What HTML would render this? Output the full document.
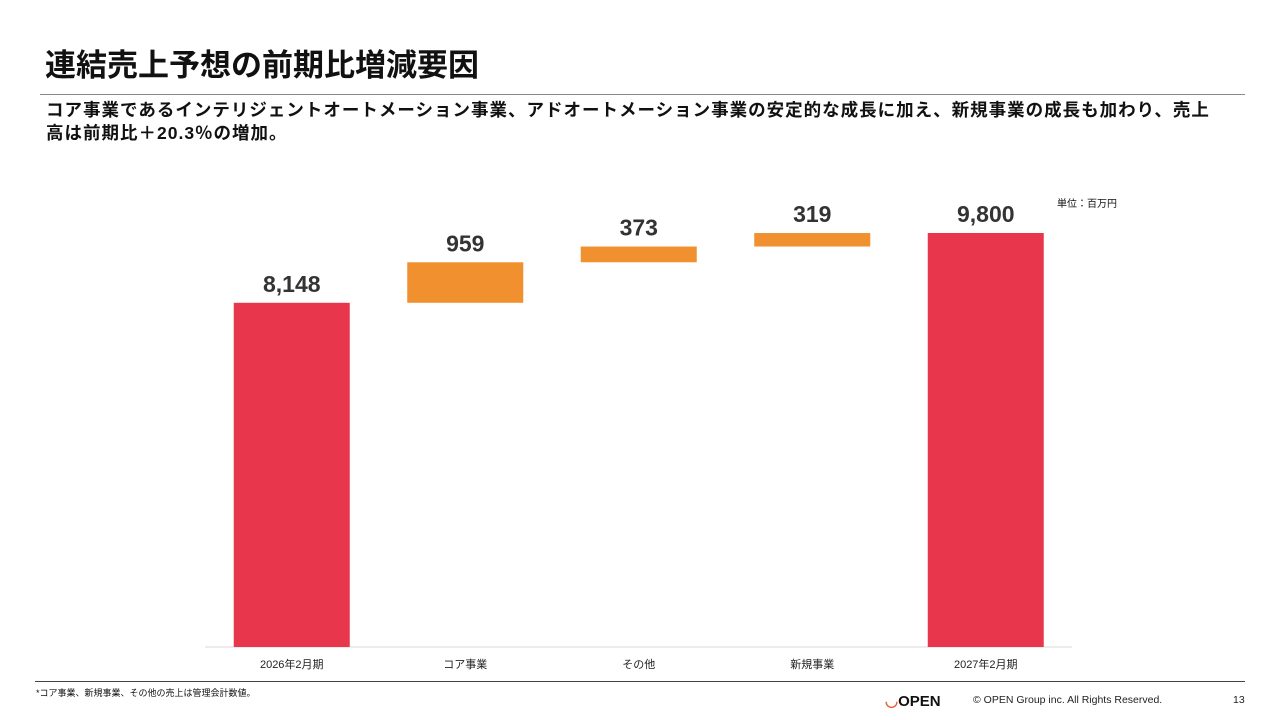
<!DOCTYPE html>
<html><head><meta charset="utf-8"><style>
body{margin:0;width:1280px;height:720px;background:#fff;position:relative;overflow:hidden;font-family:"Liberation Sans","Noto Sans CJK JP",sans-serif;color:#111}
.abs{position:absolute}
</style></head><body>
<div class="abs" style="left:45px;top:46px;font-size:31px;font-weight:bold;line-height:40px;white-space:nowrap">連結売上予想の前期比増減要因</div>
<div class="abs" style="left:40px;top:94px;width:1205px;height:1px;background:#888"></div>
<div class="abs" style="left:46px;top:99px;font-size:17.5px;font-weight:bold;line-height:23px;white-space:nowrap;letter-spacing:1px">コア事業であるインテリジェントオートメーション事業、アドオートメーション事業の安定的な成長に加え、新規事業の成長も加わり、売上<br>高は前期比＋20.3％の増加。</div>
<div class="abs" style="left:1057px;top:195px;font-size:10px">単位：百万円</div>
<svg class="abs" style="left:0;top:0" width="1280" height="720" id="chart"></svg>
<div class="abs" style="left:35px;top:681px;width:1210px;height:1px;background:#444"></div>
<div class="abs" style="left:36px;top:686px;font-size:9px">*コア事業、新規事業、その他の売上は管理会計数値。</div>
<div class="abs" style="left:885px;top:692px;font-size:15px;font-weight:bold;white-space:nowrap"><span style="color:#e8603a">◡</span>OPEN</div>
<div class="abs" style="left:973px;top:694px;font-size:10.5px;color:#222">© OPEN Group inc. All Rights Reserved.</div>
<div class="abs" style="left:1233px;top:694px;font-size:10.5px;color:#222">13</div>
<script>
const categories=["2026年2月期","コア事業","その他","新規事業","2027年2月期"];
const values=[8148,959,373,319,9800];
const kinds=["total","delta","delta","delta","total"];
const labels=["8,148","959","373","319","9,800"];
const svg=document.getElementById('chart');
const NS="http://www.w3.org/2000/svg";
const base=647, scale=414/9800, x0=205, step=173.5, bw=116;
const y=v=>base-v*scale;
const cx=i=>x0+step*(i+0.5);
const ax=document.createElementNS(NS,'line');
ax.setAttribute('x1',205);ax.setAttribute('x2',1072);ax.setAttribute('y1',base);ax.setAttribute('y2',base);ax.setAttribute('stroke','#d9d9d9');


svg.appendChild(ax);
let run=0;
values.forEach((v,i)=>{
  let lo,hi,color;
  if(kinds[i]==="total"){lo=0;hi=v;run=v;color="#e8374d";}
  else{lo=run;hi=run+v;run=hi;color="#f0902f";}
  const r=document.createElementNS(NS,'rect');
  r.setAttribute('x',cx(i)-bw/2);r.setAttribute('width',bw);
  r.setAttribute('y',y(hi));r.setAttribute('height',y(lo)-y(hi));r.setAttribute('fill',color);
  
  
  svg.appendChild(r);
  const t=document.createElementNS(NS,'text');
  t.setAttribute('x',cx(i));t.setAttribute('y',y(hi)-11);t.setAttribute('text-anchor','middle');
  t.setAttribute('font-size','23');t.setAttribute('font-weight','bold');t.setAttribute('fill','#333');
  t.textContent=labels[i];
  
  
  svg.appendChild(t);
  const c=document.createElementNS(NS,'text');
  c.setAttribute('x',cx(i));c.setAttribute('y',668);c.setAttribute('text-anchor','middle');
  c.setAttribute('font-size','11');c.setAttribute('fill','#222');
  c.textContent=categories[i];
  
  
  svg.appendChild(c);
});
</script>
</body></html>
